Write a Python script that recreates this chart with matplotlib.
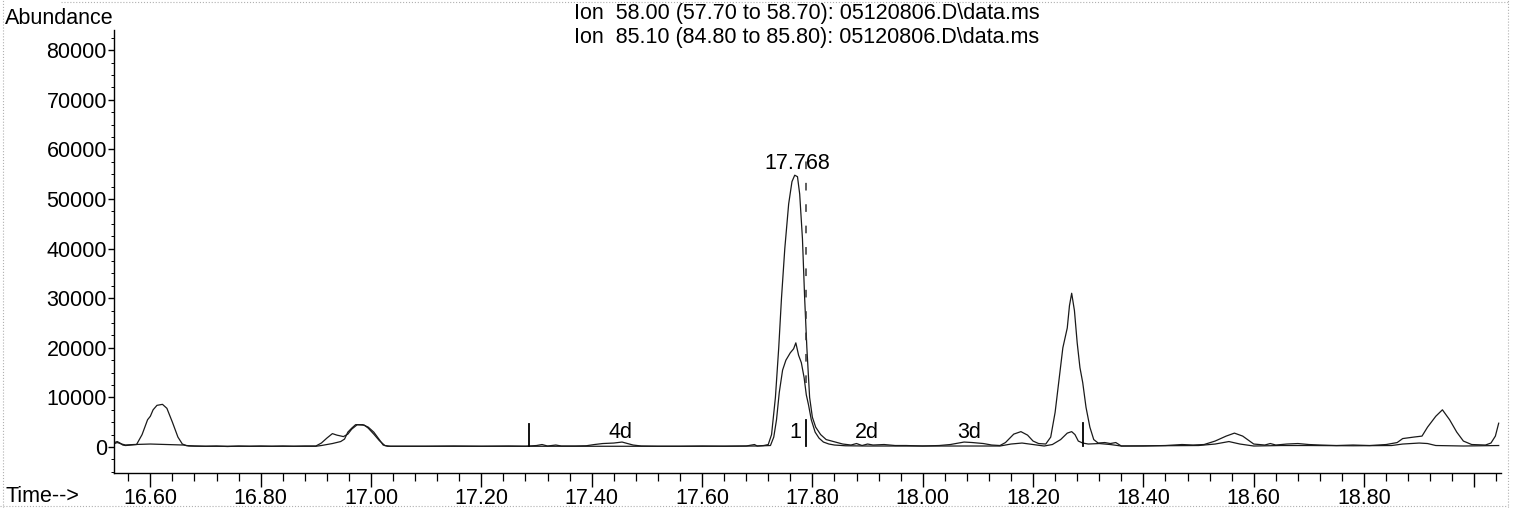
import matplotlib
matplotlib.use("Agg")
import matplotlib.pyplot as plt
from matplotlib.ticker import MultipleLocator, FixedLocator
from matplotlib.lines import Line2D

plt.rcParams['font.family'] = ['Liberation Sans', 'DejaVu Sans']

# ---------------- data ----------------
title_lines = ["Ion  58.00 (57.70 to 58.70): 05120806.D\\data.ms",
               "Ion  85.10 (84.80 to 85.80): 05120806.D\\data.ms"]

# trace with the larger peaks
time_a = [16.535, 16.540, 16.545, 16.550, 16.555, 16.565, 16.575, 16.585, 16.595, 16.600,
          16.605, 16.612, 16.622, 16.630, 16.640, 16.650, 16.658, 16.665, 16.680, 16.700,
          16.720, 16.740, 16.760, 16.780, 16.800, 16.820, 16.840, 16.860, 16.880, 16.900,
          16.910, 16.920, 16.930, 16.938, 16.950, 16.958, 16.965, 16.975, 16.988, 16.995,
          17.005, 17.015, 17.025, 17.035, 17.060, 17.100, 17.150, 17.200, 17.250, 17.280,
          17.300, 17.310, 17.320, 17.335, 17.345, 17.370, 17.390, 17.405, 17.420, 17.440,
          17.455, 17.465, 17.475, 17.490, 17.520, 17.560, 17.600, 17.640, 17.680, 17.695,
          17.700, 17.712, 17.720, 17.726, 17.733, 17.739, 17.744, 17.750, 17.757, 17.763,
          17.768, 17.773, 17.777, 17.782, 17.786, 17.790, 17.795, 17.800, 17.806, 17.815,
          17.825, 17.835, 17.845, 17.855, 17.870, 17.880, 17.890, 17.900, 17.910, 17.930,
          17.950, 17.970, 18.000, 18.030, 18.050, 18.060, 18.075, 18.090, 18.110, 18.125,
          18.140, 18.150, 18.165, 18.178, 18.190, 18.200, 18.210, 18.223, 18.232, 18.240,
          18.248, 18.254, 18.262, 18.266, 18.270, 18.275, 18.280, 18.285, 18.290, 18.296,
          18.303, 18.310, 18.318, 18.330, 18.340, 18.350, 18.360, 18.400, 18.440, 18.470,
          18.490, 18.510, 18.530, 18.550, 18.565, 18.580, 18.600, 18.620, 18.630, 18.640,
          18.660, 18.680, 18.700, 18.720, 18.750, 18.780, 18.810, 18.840, 18.860, 18.870,
          18.890, 18.905, 18.915, 18.930, 18.942, 18.955, 18.968, 18.980, 18.995, 19.020,
          19.030, 19.038, 19.044]
abund_a = [900, 1100, 800, 400, 300, 400, 500, 2500, 5500, 6200,
           7500, 8400, 8600, 7800, 5000, 2000, 600, 300, 200, 150,
           200, 100, 200, 150, 200, 150, 200, 150, 200, 200,
           800, 1800, 2700, 2400, 2100, 2600, 3600, 4500, 4400, 3800,
           2600, 1300, 300, 150, 150, 150, 200, 150, 200, 150,
           300, 500, 200, 400, 200, 200, 250, 500, 700, 800,
           1000, 700, 400, 200, 150, 150, 200, 150, 200, 500,
           200, 300, 500, 2500, 10000, 20000, 30000, 40000, 49000, 53500,
           54800, 54500, 51000, 42000, 30000, 20000, 10000, 6000, 4000, 2500,
           1500, 1200, 900, 600, 400, 700, 300, 600, 400, 500,
           300, 300, 200, 300, 500, 700, 1000, 900, 700, 400,
           300, 900, 2600, 3100, 2400, 1200, 700, 600, 2000, 7000,
           14500, 20000, 24000, 28500, 31000, 27500, 21000, 16000, 13000, 8000,
           4000, 1500, 800, 900, 700, 900, 200, 200, 300, 500,
           400, 500, 1200, 2200, 2800, 2200, 600, 400, 700, 400,
           600, 700, 500, 400, 300, 400, 300, 500, 900, 1700,
           2000, 2200, 4000, 6200, 7500, 5500, 3000, 1200, 500, 400,
           800, 2200, 4800]

# trace with the smaller peaks
time_b = [16.535, 16.540, 16.548, 16.555, 16.570, 16.600, 16.630, 16.660, 16.670, 16.700,
          16.750, 16.800, 16.850, 16.900, 16.910, 16.930, 16.945, 16.952, 16.958, 16.965,
          16.972, 16.985, 16.995, 17.005, 17.015, 17.022, 17.030, 17.100, 17.200, 17.300,
          17.400, 17.500, 17.600, 17.700, 17.724, 17.730, 17.735, 17.740, 17.746, 17.752,
          17.760, 17.766, 17.770, 17.775, 17.780, 17.785, 17.789, 17.793, 17.798, 17.805,
          17.812, 17.820, 17.830, 17.840, 17.860, 17.900, 17.950, 18.000, 18.050, 18.100,
          18.140, 18.160, 18.180, 18.200, 18.220, 18.235, 18.250, 18.262, 18.270, 18.276,
          18.282, 18.290, 18.300, 18.320, 18.340, 18.360, 18.420, 18.500, 18.530, 18.555,
          18.575, 18.600, 18.650, 18.700, 18.780, 18.850, 18.870, 18.900, 18.915, 18.930,
          18.980, 19.044]
abund_b = [700, 900, 600, 400, 500, 600, 500, 400, 200, 150,
           150, 150, 150, 150, 300, 700, 1100, 1600, 3000, 3800,
           4500, 4500, 4000, 3000, 1500, 400, 150, 150, 150, 150,
           150, 150, 150, 200, 300, 2000, 5500, 11000, 15500, 17500,
           19000, 19800, 21000, 18500, 17000, 14000, 10500, 8500, 5500, 3000,
           1800, 1000, 600, 400, 250, 200, 200, 200, 200, 200,
           200, 600, 800, 500, 200, 500, 1500, 2800, 3100, 2500,
           1200, 800, 600, 700, 500, 200, 250, 300, 600, 1100,
           600, 200, 300, 300, 250, 300, 600, 800, 700, 300,
           200, 300]

# integration markers (time, bottom, top)
marker_times = [17.287, 17.789, 18.290]
marker_bottom = [300, 300, 300]
marker_top = [4600, 5400, 4800]

# dashed retention-time line of the main peak
rt_line_time = 17.789
rt_line_range = (13000, 58500)

peak_labels = ["4d", "1", "2d", "3d"]
peak_label_times = [17.452, 17.769, 17.899, 18.085]
peak_label_y = 2900

rt_label = "17.768"
rt_label_time = 17.772
rt_label_y = 57100

x_major = [16.60, 16.80, 17.00, 17.20, 17.40, 17.60, 17.80, 18.00, 18.20, 18.40, 18.60, 18.80, 19.00]
x_major_labels = ["16.60", "16.80", "17.00", "17.20", "17.40", "17.60", "17.80", "18.00",
                  "18.20", "18.40", "18.60", "18.80", ""]
y_major = [0, 10000, 20000, 30000, 40000, 50000, 60000, 70000, 80000]

# ---------------- figure ----------------
FS = 15.5
fig = plt.figure(figsize=(15.13, 5.08), dpi=100)
ax = fig.add_axes([0.0753, 0.0689, 0.9167, 0.872])

lc = '#1a1a1a'
ax.plot(time_a, abund_a, color=lc, lw=0.9)
ax.plot(time_b, abund_b, color=lc, lw=0.9)

for t, b, tp in zip(marker_times, marker_bottom, marker_top):
    ax.plot([t, t], [b, tp], color='black', lw=1.3)
ax.plot([rt_line_time, rt_line_time], rt_line_range, color='#333333', lw=1.1,
        dashes=(5, 9))

for s, t in zip(peak_labels, peak_label_times):
    ax.text(t, peak_label_y, s, ha='center', va='center', fontsize=FS, color='black')
ax.text(rt_label_time, rt_label_y, rt_label, ha='center', va='center', fontsize=FS,
        color='black')

ax.set_xlim(16.534, 19.048)
ax.set_ylim(-5240, 84070)

ax.spines['top'].set_visible(False)
ax.spines['right'].set_visible(False)
ax.spines['left'].set_linewidth(1.0)
ax.spines['bottom'].set_linewidth(1.0)

ax.xaxis.set_major_locator(FixedLocator(x_major))
ax.set_xticklabels(x_major_labels)
ax.xaxis.set_minor_locator(MultipleLocator(0.04))
ax.yaxis.set_major_locator(FixedLocator(y_major))
ax.set_yticklabels([str(v) for v in y_major])
ax.yaxis.set_minor_locator(MultipleLocator(2500))

ax.tick_params(axis='x', which='major', length=10, width=1.0, pad=1, labelsize=FS,
               direction='out')
ax.tick_params(axis='x', which='minor', length=6, width=0.9, direction='out')
ax.tick_params(axis='y', which='major', length=4, width=1.0, pad=1, labelsize=FS,
               direction='out')
ax.tick_params(axis='y', which='minor', length=2, width=0.7, direction='out')

fig.text(5 / 1513, 1 - 18 / 508, "Abundance", ha='left', va='center', fontsize=FS)
fig.text(5 / 1513, 1 - 497 / 508, "Time-->", ha='left', va='center', fontsize=FS)
fig.text(807 / 1513, 1 - 13 / 508, title_lines[0], ha='center', va='center', fontsize=FS)
fig.text(807 / 1513, 1 - 38 / 508, title_lines[1], ha='center', va='center', fontsize=FS)

# faint dotted page border of the scan
border_kw = dict(color='#b0b0b0', lw=0.8, linestyle=':', transform=fig.transFigure)
fig.add_artist(Line2D([0.002, 0.002], [0, 1], **border_kw))
fig.add_artist(Line2D([0.997, 0.997], [0, 1], **border_kw))
fig.add_artist(Line2D([0.04, 0.997], [0.997, 0.997], **border_kw))
fig.add_artist(Line2D([0.0, 0.997], [0.004, 0.004], **border_kw))

fig.savefig("out.png", dpi=100)
